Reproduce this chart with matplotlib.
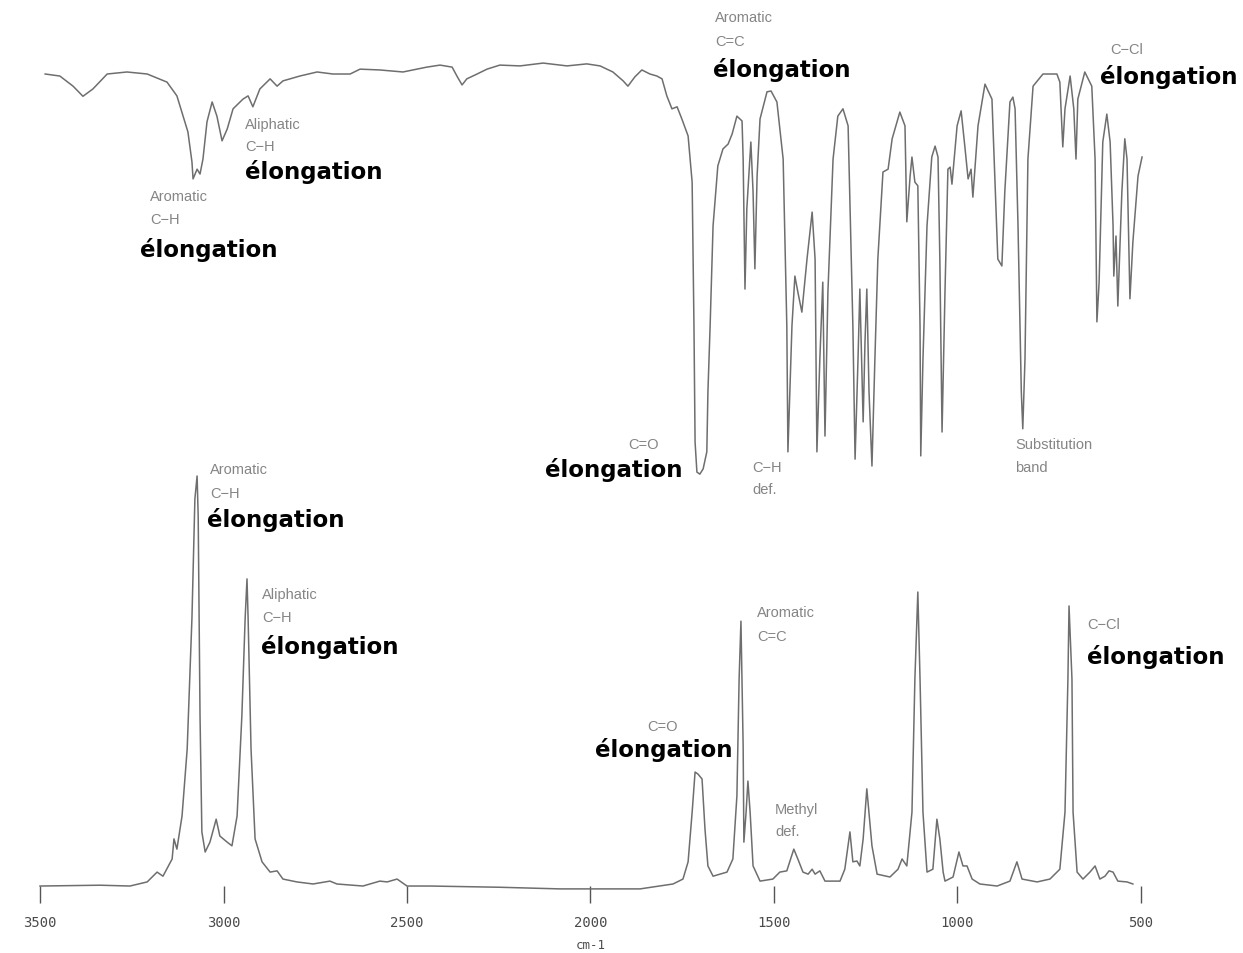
import matplotlib
matplotlib.use("Agg")
import matplotlib.pyplot as plt

plt.rcParams['font.family'] = ['Liberation Sans', 'DejaVu Sans']

# Spectre infrarouge (transmittance, %)
ir_wn = [3486, 3446, 3410, 3383, 3356, 3317, 3263, 3208, 3154, 3127, 3110, 3097,
         3086, 3083, 3072, 3064, 3056, 3045, 3031, 3018, 3004, 2990, 2974, 2947,
         2933, 2920, 2901, 2873, 2854, 2838, 2792, 2745, 2702, 2655, 2628, 2574,
         2511, 2446, 2410, 2377, 2364, 2350, 2337, 2309, 2282, 2247, 2192, 2129,
         2064, 2010, 1974, 1939, 1911, 1898, 1879, 1860, 1838, 1819, 1805, 1792,
         1778, 1764, 1751, 1734, 1723, 1718, 1715, 1710, 1702, 1693, 1683, 1680,
         1674, 1666, 1653, 1639, 1625, 1614, 1601, 1587, 1584, 1579, 1574, 1563,
         1557, 1552, 1546, 1538, 1519, 1508, 1492, 1475, 1465, 1462, 1451, 1443,
         1435, 1424, 1410, 1396, 1388, 1383, 1375, 1367, 1361, 1353, 1339, 1326,
         1312, 1298, 1285, 1279, 1271, 1266, 1257, 1252, 1247, 1241, 1233, 1225,
         1217, 1206, 1203, 1189, 1178, 1157, 1143, 1138, 1129, 1124, 1116, 1108,
         1102, 1100, 1094, 1083, 1070, 1061, 1053, 1048, 1042, 1034, 1026, 1020,
         1015, 1001, 990, 980, 971, 963, 958, 944, 925, 906, 890, 879,
         871, 857, 849, 843, 835, 826, 822, 816, 808, 794, 767, 729,
         721, 713, 707, 693, 683, 677, 672, 653, 634, 625, 620, 614,
         604, 593, 584, 576, 574, 568, 563, 552, 544, 538, 530, 522,
         508, 497]
ir_t = [99.5, 99.0, 96.5, 94.0, 95.8, 99.5, 100.0, 99.5, 97.5, 94.1, 89.1, 85.2,
        77.8, 73.6, 76.0, 74.8, 78.5, 87.7, 92.6, 89.1, 83.0, 85.9, 90.9, 93.3,
        94.1, 91.4, 95.8, 98.3, 96.5, 97.8, 99.0, 100.0, 99.5, 99.5, 100.7, 100.5,
        100.0, 101.2, 101.7, 101.2, 99.0, 96.8, 98.3, 99.5, 100.7, 101.7, 101.5, 102.2,
        101.5, 102.0, 101.5, 100.0, 97.8, 96.5, 98.8, 100.5, 99.5, 99.0, 98.3, 94.1,
        90.9, 91.4, 88.4, 84.2, 72.8, 37.0, 8.6, 1.2, 0.7, 2.0, 6.2, 21.0,
        37.3, 62.0, 76.8, 81.0, 82.2, 84.7, 89.1, 87.9, 78.5, 46.4, 66.2, 82.7,
        70.4, 51.4, 74.3, 88.4, 95.1, 95.3, 92.6, 78.5, 37.3, 6.2, 37.3, 49.6,
        45.7, 40.7, 53.8, 65.4, 53.8, 6.2, 29.1, 48.1, 10.1, 45.7, 78.5, 89.1,
        90.9, 86.7, 37.3, 4.4, 29.1, 46.4, 13.6, 33.3, 46.4, 21.0, 2.7, 29.1,
        53.8, 70.4, 75.3, 76.0, 83.5, 90.1, 86.7, 63.0, 74.3, 79.0, 72.8, 71.9,
        37.3, 5.2, 29.1, 62.0, 79.0, 81.7, 79.0, 53.8, 11.1, 45.7, 76.0, 76.5,
        72.3, 86.7, 90.4, 81.7, 73.6, 76.0, 69.1, 86.7, 97.0, 93.3, 53.8, 52.1,
        70.4, 92.6, 93.8, 90.9, 62.0, 21.0, 11.9, 29.1, 78.5, 96.5, 99.5, 99.5,
        97.5, 81.5, 90.9, 99.0, 90.9, 78.5, 93.3, 100.0, 96.5, 78.5, 38.3, 48.1,
        82.7, 89.6, 82.7, 62.0, 49.6, 59.5, 42.2, 70.4, 83.5, 78.5, 44.0, 58.0,
        74.3, 79.0]

# Spectre Raman (intensite relative)
raman_wn = [3500, 3337, 3255, 3208, 3181, 3165, 3140, 3135, 3127, 3113, 3099, 3086,
            3078, 3072, 3069, 3064, 3059, 3050, 3037, 3020, 3010, 2990, 2977, 2963,
            2950, 2941, 2936, 2933, 2925, 2914, 2895, 2873, 2854, 2838, 2800, 2756,
            2710, 2691, 2620, 2574, 2554, 2527, 2500, 2437, 2247, 2083, 1865, 1775,
            1748, 1734, 1723, 1715, 1707, 1696, 1688, 1680, 1666, 1628, 1612, 1601,
            1595, 1590, 1584, 1582, 1576, 1571, 1565, 1557, 1538, 1503, 1484, 1465,
            1446, 1435, 1421, 1407, 1396, 1388, 1375, 1361, 1320, 1307, 1293, 1285,
            1274, 1266, 1257, 1247, 1233, 1219, 1184, 1162, 1151, 1138, 1124, 1116,
            1108, 1102, 1094, 1083, 1067, 1056, 1048, 1039, 1034, 1012, 996, 985,
            974, 960, 939, 892, 857, 838, 824, 783, 748, 729, 721, 707,
            699, 696, 688, 685, 674, 658, 639, 625, 612, 598, 587, 576,
            563, 538, 522]
raman_i = [0.0, 0.2, 0.0, 1.0, 3.4, 2.4, 6.6, 11.5, 9.0, 17.1, 33.4, 65.4,
           94.4, 100.0, 90.2, 41.5, 13.2, 8.3, 10.7, 16.3, 12.2, 10.7, 9.8, 17.1,
           41.5, 65.4, 74.9, 65.4, 33.4, 11.5, 5.9, 3.4, 3.7, 1.7, 1.0, 0.5,
           1.2, 0.5, 0.0, 1.2, 1.0, 1.7, 0.0, 0.0, -0.3, -0.7, -0.7, 0.5,
           1.7, 5.9, 18.0, 27.8, 27.3, 26.1, 13.9, 4.9, 2.4, 3.4, 6.6, 22.0,
           50.5, 64.6, 34.1, 10.7, 18.0, 25.6, 18.0, 4.9, 1.2, 1.7, 3.4, 3.7,
           9.0, 6.6, 3.4, 2.9, 4.1, 2.9, 3.7, 1.2, 1.2, 4.1, 13.2, 5.9,
           6.1, 4.9, 11.5, 23.7, 9.8, 2.9, 2.2, 4.1, 6.6, 4.9, 18.0, 50.5,
           71.7, 50.5, 18.0, 3.4, 4.1, 16.3, 11.5, 3.4, 1.2, 2.2, 8.3, 4.9,
           4.9, 1.7, 0.5, 0.0, 1.2, 5.9, 1.7, 1.0, 1.7, 3.4, 4.1, 18.0,
           50.5, 68.3, 50.5, 18.0, 3.4, 1.7, 3.4, 4.9, 1.7, 2.4, 3.7, 3.4,
           1.2, 1.0, 0.5]

ticks = [3500, 3000, 2500, 2000, 1500, 1000, 500]

# annotations : (nombre d'onde, valeur, texte, gras)
ir_labels = [
    (3200, 69.4, "Aromatic", False), (3200, 63.7, "C\u2212H", False),
    (3228, 56.3, "élongation", True),
    (2941, 87.2, "Aliphatic", False), (2941, 81.7, "C\u2212H", False),
    (2941, 75.6, "élongation", True),
    (1661, 113.6, "Aromatic", False), (1661, 107.7, "C=C", False),
    (1666, 100.7, "élongation", True),
    (584, 105.7, "C\u2212Cl", False), (612, 99.0, "élongation", True),
    (1898, 8.1, "C=O", False), (2124, 2.0, "élongation", True),
    (1560, 2.5, "C\u2212H", False), (1560, -3.0, "def.", False),
    (843, 8.1, "Substitution", False), (843, 2.5, "band", False),
]
raman_labels = [
    (3037, 101.7, "Aromatic", False), (3037, 95.9, "C\u2212H", False),
    (3045, 89.5, "élongation", True),
    (2895, 71.2, "Aliphatic", False), (2895, 65.6, "C\u2212H", False),
    (2898, 58.5, "élongation", True),
    (1846, 39.0, "C=O", False), (1988, 33.4, "élongation", True),
    (1546, 66.8, "Aromatic", False), (1546, 61.0, "C=C", False),
    (1497, 18.8, "Methyl", False), (1497, 13.4, "def.", False),
    (647, 63.9, "C\u2212Cl", False), (647, 56.1, "élongation", True),
]

line_color = '#6e6e6e'
mono = ['DejaVu Sans Mono', 'DejaVu Sans']
fig = plt.figure(figsize=(12.43, 9.54), dpi=100)
ax_ir = fig.add_axes([0.0322, 0.4990, 0.8857, 0.4245])
ax_ra = fig.add_axes([0.0322, 0.0702, 0.8857, 0.4298])

ax_ir.plot(ir_wn, ir_t, color=line_color, lw=1.1, clip_on=False)
ax_ra.plot(raman_wn, raman_i, color=line_color, lw=1.1, clip_on=False)

for ax in (ax_ir, ax_ra):
    ax.set_xlim(3500, 500)
    ax.set_ylim(0, 100)
    for s in ax.spines.values():
        s.set_visible(False)
    ax.set_yticks([])
    ax.patch.set_alpha(0)

ax_ir.set_xticks([])
ax_ra.set_xticks(ticks)
ax_ra.set_xticklabels([str(t) for t in ticks], fontsize=10, color='#4a4a4a',
                      family=mono)
ax_ra.tick_params(axis='x', direction='out', length=12, width=1,
                  color='#555555', pad=9)
ax_ra.set_xlabel('cm-1', fontsize=9, color='#4a4a4a', labelpad=6, family=mono)

for ax, labels in ((ax_ir, ir_labels), (ax_ra, raman_labels)):
    for wn, val, txt, bold in labels:
        if bold:
            ax.text(wn, val, txt, fontsize=16.5, fontweight='bold', color='black',
                    family=['DejaVu Sans'], ha='left', va='center', clip_on=False)
        else:
            ax.text(wn, val, txt, fontsize=10.5, color='#858585',
                    ha='left', va='center', clip_on=False)

fig.savefig('out.png', dpi=100)
